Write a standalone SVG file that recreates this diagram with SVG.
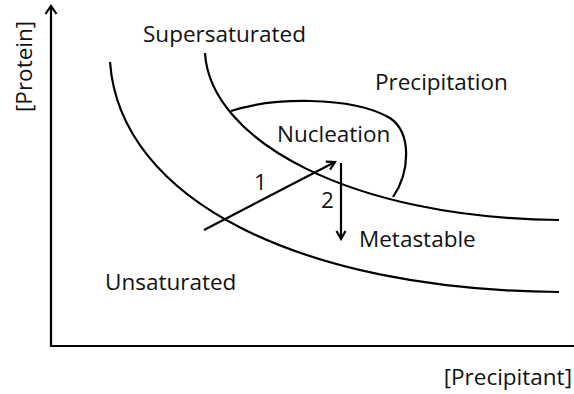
<svg xmlns="http://www.w3.org/2000/svg" width="574" height="394" viewBox="0 0 574 394">
<defs>
<style>
.t{font-family:"Open Sans","Noto Sans",sans-serif;font-size:22.5px;fill:#111}
.c{fill:none;stroke:#000;stroke-width:2.2}
.a{fill:none;stroke:#000;stroke-width:2.2}
</style>
<marker id="ah2" viewBox="0 0 12 12" refX="10" refY="6" markerWidth="12" markerHeight="12" orient="auto" markerUnits="userSpaceOnUse">
<path d="M2,1.5 L10,6 L2,10.5" fill="none" stroke="#000" stroke-width="2.2"/>
</marker>
</defs>
<rect width="574" height="394" fill="#fff"/>
<g id="axes">
<path class="a" d="M51,346 L51,8"/>
<path d="M45.5,14 L51,6 L56.5,14" fill="none" stroke="#000" stroke-width="2.2"/>
<path class="a" d="M50,346 L574,346"/>
</g>
<g id="curves">
<path id="solubility" class="c" d="M110,62 C120,200 300,290 559,292"/>
<path id="supersolubility" class="c" d="M205,53 C210,140 350,218 559,220"/>
<path id="nucleation-zone" class="c" d="M231,111 C270,98 350,95 390,118 C412,133 410,172 393,197"/>
</g>
<g id="connectors">
<path class="a" d="M204,230 L335,162" marker-end="url(#ah2)"/>
<path class="a" d="M341,163 L341,239" marker-end="url(#ah2)"/>
</g>
<g id="labels">
<text class="t" x="143" y="42">Supersaturated</text>
<text class="t" x="375" y="90">Precipitation</text>
<text class="t" x="277" y="142">Nucleation</text>
<text class="t" x="359" y="247">Metastable</text>
<text class="t" x="105" y="290">Unsaturated</text>
<text class="t" x="254" y="190" font-size="17">1</text>
<text class="t" x="321" y="208" font-size="17">2</text>
<text class="t" x="572" y="385" text-anchor="end">[Precipitant]</text>
<text class="t" transform="translate(32,112) rotate(-90)">[Protein]</text>
</g>
</svg>
